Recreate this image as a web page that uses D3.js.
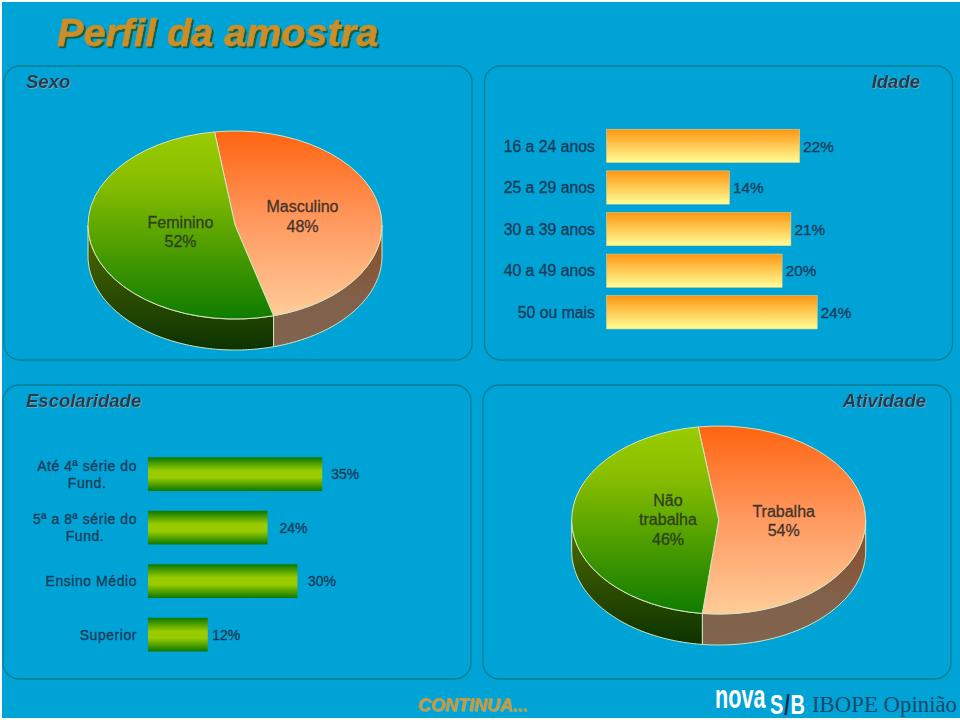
<!DOCTYPE html>
<html lang="pt">
<head>
<meta charset="utf-8">
<title>Perfil da amostra</title>
<script src="https://cdnjs.cloudflare.com/ajax/libs/d3/7.8.5/d3.min.js"></script>
<style>
  html, body { margin: 0; padding: 0; background: #fff; }
  svg { display: block; }
  text { font-family: "Liberation Sans", Arial, sans-serif; }
</style>
</head>
<body>
<svg id="chart" width="960" height="720"></svg>
<script>
// data
var sexoLabels = [["Masculino", "48%"], ["Feminino", "52%"]];
var sexoValues = [48, 52];
var idadeCats = ["16 a 24 anos", "25 a 29 anos", "30 a 39 anos", "40 a 49 anos", "50 ou mais"];
var idadeValues = [22, 14, 21, 20, 24];
var escCats = [["Até 4ª série do", "Fund."], ["5ª a 8ª série do", "Fund."], ["Ensino Médio"], ["Superior"]];
var escValues = [35, 24, 30, 12];
var ativLabels = [["Trabalha", "54%"], ["Não", "trabalha", "46%"]];
var ativValues = [54, 46];

var svg = d3.select("#chart");
var defs = svg.append("defs");

function gradient(id, stops) {
  var g = defs.append("linearGradient").attr("id", id)
    .attr("x1", 0).attr("y1", 0).attr("x2", 0).attr("y2", 1);
  stops.forEach(function (s) {
    g.append("stop").attr("offset", s[0]).attr("stop-color", s[1]);
  });
}
gradient("topOrange", [[0, "#ff6410"], [0.5, "#ff9a60"], [1, "#ffcc99"]]);
gradient("topGreen", [[0, "#99cc00"], [0.25, "#8abf00"], [1, "#0f7c00"]]);
gradient("wallOrange", [[0, "#8c4a22"], [0.6, "#82604a"], [1, "#80654e"]]);
gradient("wallGreen", [[0, "#526c00"], [1, "#0c3300"]]);
gradient("barIdade", [[0, "#ff9610"], [1, "#ffff99"]]);
gradient("barEsc", [[0, "#0b7800"], [0.4, "#99cc00"], [0.6, "#99cc00"], [1, "#0b7800"]]);

function shadow(id, dx, dy, color) {
  var f = defs.append("filter").attr("id", id)
    .attr("x", "-5%").attr("y", "-10%").attr("width", "110%").attr("height", "125%");
  f.append("feDropShadow").attr("dx", dx).attr("dy", dy).attr("stdDeviation", 0.3)
    .attr("flood-color", color).attr("flood-opacity", 1);
}
shadow("titleShadow", 2, 2, "#17603f");
shadow("panelShadow", 0.8, 0.8, "#72a9ba");
shadow("contShadow", 1, 1, "#7fa8a0");

// background
svg.append("rect").attr("x", 2).attr("y", 2).attr("width", 958).attr("height", 716).attr("fill", "#00a3d6");

svg.append("text").attr("x", 57).attr("y", 46)
  .attr("font-size", 39.6).attr("font-weight", "bold").attr("font-style", "italic")
  .attr("fill", "#cc8e26").attr("stroke", "#cc8e26").attr("stroke-width", 0.5)
  .attr("filter", "url(#titleShadow)")
  .text("Perfil da amostra");

// panels
var panels = [
  { x: 4, y: 66, name: "Sexo", tx: 26, anchor: "start" },
  { x: 484.5, y: 66, name: "Idade", tx: 920, anchor: "end" },
  { x: 3, y: 385, name: "Escolaridade", tx: 26, anchor: "start" },
  { x: 483, y: 385, name: "Atividade", tx: 926, anchor: "end" }
];
panels.forEach(function (p) {
  svg.append("rect").attr("x", p.x).attr("y", p.y).attr("width", 468).attr("height", 294)
    .attr("rx", 16).attr("ry", 16)
    .attr("fill", "none").attr("stroke", "#0a7d94").attr("stroke-width", 1.3);
  svg.append("text").attr("x", p.tx).attr("y", p.y + 22)
    .attr("text-anchor", p.anchor)
    .attr("font-size", 18.5).attr("font-weight", "bold").attr("font-style", "italic")
    .attr("fill", "#243a50").attr("filter", "url(#panelShadow)")
    .text(p.name);
});

// 3d pie: d3 pie laid out on a circle, squashed vertically, with a wall under the front part
function drawPie(values, labels, cx, cy, anchors) {
  var rx = 147, ry = 94, depth = 31;
  var start = -8 * Math.PI / 180;
  var pie = d3.pie().sort(null).startAngle(start).endAngle(start + 2 * Math.PI);
  var arcs = pie(values);
  var fills = ["Orange", "Green"];
  var g = svg.append("g").attr("transform", "translate(" + cx + "," + cy + ")");

  var line = d3.line();
  arcs.forEach(function (a, i) {
    var a0 = Math.max(a.startAngle, Math.PI / 2);
    var a1 = Math.min(a.endAngle, 3 * Math.PI / 2);
    if (a1 <= a0) return;
    var angles = d3.range(a0, a1, 0.02).concat([a1]);
    var upper = angles.map(function (t) { return [rx * Math.sin(t), -ry * Math.cos(t)]; });
    var lower = upper.map(function (p) { return [p[0], p[1] + depth]; }).reverse();
    g.append("path").attr("d", line(upper.concat(lower)) + "Z")
      .attr("fill", "url(#wall" + fills[i] + ")")
      .attr("stroke", "#d6e4c0").attr("stroke-width", 1);
  });

  var arc = d3.arc().innerRadius(0).outerRadius(rx);
  g.append("g").attr("transform", "scale(1," + (ry / rx) + ")")
    .selectAll("path").data(arcs).enter().append("path")
    .attr("d", arc)
    .attr("fill", function (d, i) { return "url(#top" + fills[i] + ")"; })
    .attr("stroke", "#d6e4c0").attr("stroke-width", 1)
    .attr("vector-effect", "non-scaling-stroke");

  labels.forEach(function (lines, i) {
    var col = i === 0 ? "#43342c" : "#2f4020";
    lines.forEach(function (t, j) {
      svg.append("text").attr("x", anchors[i][0]).attr("y", anchors[i][1] + j * 19.4)
        .attr("text-anchor", "middle").attr("font-size", 16)
        .attr("fill", col).attr("stroke", col).attr("stroke-width", 0.3)
        .text(t);
    });
  });
}
drawPie(sexoValues, sexoLabels, 235, 225, [[302.5, 212.3], [180.5, 227.5]]);
drawPie(ativValues, ativLabels, 718.7, 520, [[783.7, 516.7], [668, 505.7]]);

var labelColor = "#1c3d5a";

// Idade bars
var xIdade = d3.scaleLinear().domain([0, 100]).range([0, 878]);
var yIdade = d3.scaleBand().domain(idadeCats).range([125.1, 333.1]).paddingInner(0.2).paddingOuter(0.1);
var gIdade = svg.append("g");
gIdade.selectAll("rect").data(idadeValues).enter().append("rect")
  .attr("x", 606.5)
  .attr("y", function (d, i) { return yIdade(idadeCats[i]); })
  .attr("width", function (d) { return xIdade(d); })
  .attr("height", yIdade.bandwidth())
  .attr("fill", "url(#barIdade)")
  .attr("stroke", "#e3cf8a").attr("stroke-width", 0.6);
idadeCats.forEach(function (c, i) {
  var mid = yIdade(c) + yIdade.bandwidth() / 2;
  gIdade.append("text").attr("x", 595).attr("y", mid + 5.6).attr("text-anchor", "end")
    .attr("font-size", 15.8).attr("fill", labelColor)
    .attr("stroke", labelColor).attr("stroke-width", 0.35).text(c);
  gIdade.append("text").attr("x", 606.5 + xIdade(idadeValues[i]) + 3.6).attr("y", mid + 5.6)
    .attr("font-size", 15.3).attr("fill", labelColor)
    .attr("stroke", labelColor).attr("stroke-width", 0.35).text(idadeValues[i] + "%");
});

// Escolaridade bars
var xEsc = d3.scaleLinear().domain([0, 100]).range([0, 498]);
var yEsc = d3.scaleBand().domain(d3.range(escCats.length)).range([447.4, 661.4]).paddingInner(0.37).paddingOuter(0.185);
var escGaps = [9, 12, 10.5, 4.5];
var gEsc = svg.append("g");
gEsc.selectAll("rect").data(escValues).enter().append("rect")
  .attr("x", 148)
  .attr("y", function (d, i) { return yEsc(i); })
  .attr("width", function (d) { return xEsc(d); })
  .attr("height", yEsc.bandwidth())
  .attr("fill", "url(#barEsc)");
escCats.forEach(function (lines, i) {
  var mid = yEsc(i) + yEsc.bandwidth() / 2;
  var top = mid + 5 - (lines.length - 1) * 8.5;
  var texts = lines.map(function (t, j) {
    return gEsc.append("text").attr("y", top + j * 17)
      .attr("font-size", 14).attr("letter-spacing", 0.55)
      .attr("text-anchor", "middle").attr("fill", labelColor)
      .attr("stroke", labelColor).attr("stroke-width", 0.35).text(t);
  });
  // block sits against the bars, lines centred inside it
  var w = d3.max(texts, function (t) { return t.node().getComputedTextLength(); });
  texts.forEach(function (t) { t.attr("x", 137 - w / 2); });
  gEsc.append("text").attr("x", 148 + xEsc(escValues[i]) + escGaps[i]).attr("y", mid + 5)
    .attr("font-size", 14).attr("fill", labelColor)
    .attr("stroke", labelColor).attr("stroke-width", 0.35).text(escValues[i] + "%");
});

// footer
svg.append("text").attr("x", 418).attr("y", 711)
  .attr("font-size", 18).attr("font-weight", "bold").attr("font-style", "italic")
  .attr("fill", "#cc9a33").attr("filter", "url(#contShadow)")
  .text("CONTINUA...");

// no narrow font is installed, so the logo letters are squeezed by hand
svg.append("text").attr("transform", "translate(715,708) scale(0.72,1.1)")
  .attr("font-size", 30).attr("font-weight", "bold").attr("fill", "#ffffff")
  .text("nova");
var sb = svg.append("text").attr("transform", "translate(770,714) scale(0.8,1.1)")
  .attr("font-size", 25).attr("font-weight", "bold").attr("fill", "#ffffff");
sb.append("tspan").text("S");
sb.append("tspan").attr("dx", 1).attr("fill", "#0b2a4a").text("/");
sb.append("tspan").attr("dx", 1).text("B");
svg.append("text").attr("x", 812).attr("y", 712)
  .style("font-family", '"Liberation Serif", serif')
  .attr("font-size", 22.8).attr("fill", "#1b4a6c")
  .text("IBOPE Opinião");
</script>
</body>
</html>
